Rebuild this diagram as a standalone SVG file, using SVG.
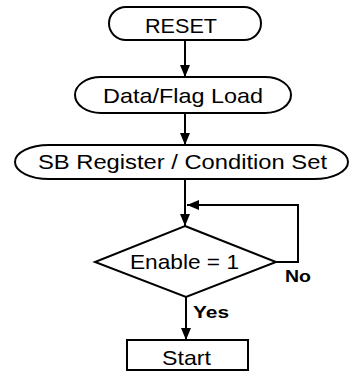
<svg xmlns="http://www.w3.org/2000/svg" width="350" height="374" viewBox="0 0 350 374">
  <style>
    .shape { fill: #fff; stroke: #000; stroke-width: 2; }
    .label { font-family: "Liberation Sans", Arial, sans-serif; font-size: 21px; fill: #000; }
    .tag { font-family: "Liberation Sans", Arial, sans-serif; font-size: 17px; font-weight: bold; fill: #000; }
    .wire { fill: none; stroke: #000; stroke-width: 2; }
  </style>
  <defs>
    <marker id="head" viewBox="0 0 12 10" refX="12" refY="5" markerWidth="12" markerHeight="10" orient="auto" markerUnits="userSpaceOnUse">
      <path d="M0,0 L12,5 L0,10 z" fill="#000"/>
    </marker>
  </defs>

  <g id="connectors">
    <line class="wire" x1="185" y1="40" x2="185" y2="77" marker-end="url(#head)"/>
    <line class="wire" x1="185" y1="113" x2="185" y2="145" marker-end="url(#head)"/>
    <line class="wire" x1="185" y1="179" x2="185" y2="226" marker-end="url(#head)"/>
    <polyline class="wire" points="276,262 298,262 298,205 187,205" marker-end="url(#head)"/>
    <line class="wire" x1="186" y1="297" x2="186" y2="340" marker-end="url(#head)"/>
    <text class="tag" x="285" y="282" textLength="26" lengthAdjust="spacingAndGlyphs">No</text>
    <text class="tag" x="193" y="318" textLength="36" lengthAdjust="spacingAndGlyphs">Yes</text>
  </g>

  <g id="reset">
    <rect class="shape" x="109" y="7" width="152" height="33" rx="17" ry="16.5"/>
    <text class="label" x="145" y="33" textLength="72" lengthAdjust="spacingAndGlyphs">RESET</text>
  </g>

  <g id="data-flag-load">
    <rect class="shape" x="75" y="77" width="216" height="36" rx="26" ry="18"/>
    <text class="label" x="103" y="103" textLength="160" lengthAdjust="spacingAndGlyphs">Data/Flag Load</text>
  </g>

  <g id="sb-register">
    <rect class="shape" x="15" y="145" width="333" height="34" rx="34" ry="17"/>
    <text class="label" x="38" y="169" font-size="20" textLength="289" lengthAdjust="spacingAndGlyphs">SB Register / Condition Set</text>
  </g>

  <g id="enable-check">
    <polygon class="shape" points="185,226 276,262 186,297 95,262"/>
    <text class="label" x="130" y="269" textLength="109" lengthAdjust="spacingAndGlyphs">Enable = 1</text>
  </g>

  <g id="start">
    <rect class="shape" x="127" y="340" width="121" height="30"/>
    <text class="label" x="162" y="365" textLength="49" lengthAdjust="spacingAndGlyphs">Start</text>
  </g>
</svg>
